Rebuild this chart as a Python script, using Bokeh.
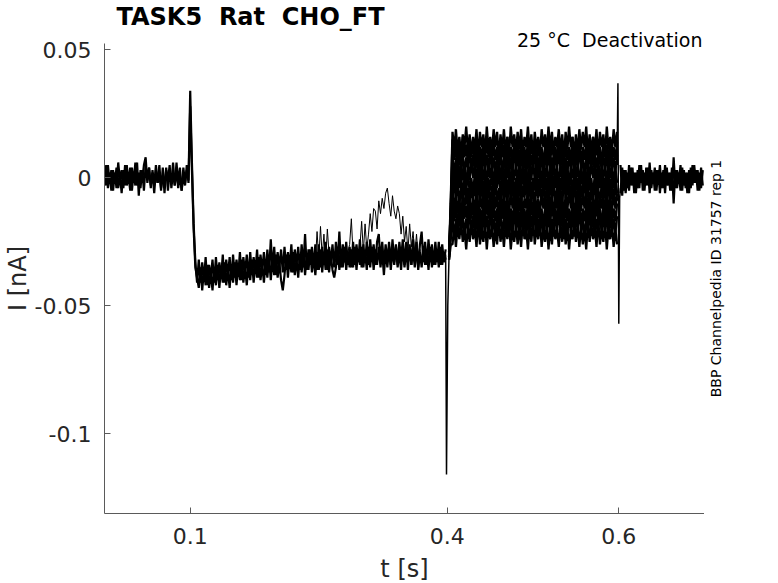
import numpy as np
from bokeh.plotting import figure
from bokeh.layouts import row
from bokeh.models import Range1d, FixedTicker, Title, Label
from bokeh.embed import file_html
from bokeh.resources import INLINE

# ---------------- texts / axes ----------------
title_text = "TASK5  Rat  CHO_FT"
condition_text = "25 °C  Deactivation"
source_text = "BBP Channelpedia ID 31757 rep 1"
x_label = "t [s]"
y_label = "I [nA]"
x_ticks = [0.1, 0.4, 0.6]
x_tick_labels = ["0.1", "0.4", "0.6"]
y_ticks = [0.05, 0.0, -0.05, -0.1]
y_tick_labels = ["0.05", "0", "-0.05", "-0.1"]
x_limits = [0.0, 0.7]
y_limits = [-0.1312, 0.0525]

# ---------------- data (current, in pA) ----------------
# holding + prepulse, two overlapping sweeps, sampled every 2 ms from t = 0
base_start_s = 0.0
base_dt_s = 0.002
base_a_pA = [
    4, -3, 5, -2, 3, -5, 2, -4, 6, -1,
    3, -4, 5, -3, 1, -5, 4, -2, 6, -3,
    2, -4, 3, -5, 5, -1, 4, -3, 2, -6,
    3, -2, 5, -4, 1, -3, 4, -5, 2, -2,
    6, -3, 3, -4, 1, -5, 4, -2, 3, -1,
    34, 6, -18, -33, -41,
    -32, -41, -33, -40, -31, -42, -34, -39, -32, -41,
    -31, -40, -33, -39, -30, -41, -32, -38, -31, -40,
    -30, -39, -32, -38, -29, -40, -31, -37, -30, -39,
    -29, -38, -31, -37, -28, -39, -30, -36, -29, -38,
    -28, -37, -24, -36, -27, -38, -29, -35, -28, -37,
    -27, -36, -29, -35, -26, -37, -28, -34, -27, -36,
    -26, -35, -22, -36, -28, -34, -27, -35, -26, -36,
    -26, -35, -27, -34, -25, -36, -27, -33, -26, -35,
    -25, -34, -21, -35, -26, -33, -25, -34, -27, -35,
    -25, -34, -26, -33, -24, -35, -26, -33, -25, -34,
    -24, -33, -26, -34, -25, -22, -33, -25, -34, -26,
    -33, -25, -34, -24, -33, -26, -34, -25, -32, -24,
    -34, -25, -33, -26, -34, -24, -33, -25, -35, -26,
    -21, -33, -25, -34, -24, -33, -26, -34, -25, -33,
    -25, -34, -26, -33, -28,
]
base_b_pA = [
    -3, 5, -4, 2, -5, 3, -2, 4, -4, 1,
    -6, 3, -3, 5, -2, 4, -5, 2, -3, 6,
    -7, 3, -1, 5, 8, -2, 4, -4, 3, -3,
    5, -2, 2, -5, 4, -6, 3, -1, 5, -4,
    2, -3, 6, -2, 4, -5, 1, -3, 5, -2,
    28, 3, -20, -35, -39,
    -43, -35, -44, -36, -42, -34, -43, -37, -44, -35,
    -42, -34, -43, -35, -41, -33, -42, -36, -43, -34,
    -41, -33, -42, -34, -40, -32, -41, -35, -42, -33,
    -40, -32, -41, -33, -39, -31, -40, -34, -41, -32,
    -39, -31, -40, -32, -38, -30, -39, -33, -40, -44,
    -38, -30, -39, -31, -37, -29, -38, -32, -39, -30,
    -37, -29, -38, -30, -36, -28, -37, -31, -38, -29,
    -36, -28, -37, -29, -36, -28, -37, -30, -36, -39,
    -35, -27, -36, -28, -35, -27, -36, -29, -35, -28,
    -35, -27, -36, -28, -34, -27, -35, -29, -36, -27,
    -35, -27, -36, -28, -34, -27, -35, -29, -38, -28,
    -35, -27, -36, -28, -34, -27, -35, -29, -36, -27,
    -35, -28, -36, -27, -34, -28, -35, -27, -36, -29,
    -35, -27, -34, -28, -36, -27, -35, -29, -34, -28,
    -35, -27, -34, -29, -32,
]
# the sweep with the transient bump, 0.240 s .. 0.378 s
bump_start_s = 0.240
bump_dt_s = 0.002
bump_pA = [
    -31, -34, -30, -33, -21, -32, -19, -31, -22, -33,
    -20, -30, -34, -31, -29, -33, -30, -32, -28, -31,
    -33, -30, -29, -26, -16, -30, -32, -29, -31, -27,
    -17, -29, -18, -28, -22, -14, -21, -12, -13, -20,
    -9, -14, -8, -12, -6, -4, -10, -15, -7, -13,
    -16, -11, -14, -22, -15, -25, -19, -29, -18, -27,
    -21, -30, -22, -31, -28, -33, -29, -31, -30, -32,
]
# capacitive transient at the start of the test pulses
spike_on_t = [0.398, 0.399, 0.4005, 0.402]
spike_on_pA = [-30, -116, -50, -30]
# test pulses, 10 sweeps, sampled every 2 ms from 0.402 s
step_start_s = 0.402
step_dt_s = 0.002
step_1_pA = [-29, -8,
             18, 11, 19, 10, 16, 9, 17, 12, 20, 10, 17, 9, 16, 11, 19, 8, 18, 12, 17, 9,
             20, 11, 16, 10, 19, 12, 18, 8, 17, 11, 19, 10, 16, 9, 20, 12, 17, 10, 18, 11,
             19, 9, 16, 12, 20, 10, 17, 8, 18, 11, 16, 9, 19, 12, 17, 10, 20, 11, 18, 9,
             16, 12, 19, 10, 17, 8, 18, 11, 20, 12, 16, 9, 17, 10, 19, 11, 18, 12, 20, 9,
             17, 10, 16, 11, 19, 8, 18, 12, 17, 9, 20, 11, 16, 10, 19, 12, 18]
step_2_pA = [-31, -10,
             15, 7, 14, 4, 12, 6, 16, 8, 13, 5, 14, 8, 15, 6, 13, 4, 12, 7, 15, 6,
             16, 8, 13, 5, 14, 7, 12, 4, 15, 8, 13, 6, 16, 5, 12, 7, 14, 8, 15, 4,
             13, 6, 12, 5, 16, 7, 14, 8, 13, 5, 15, 6, 12, 4, 13, 8, 14, 5, 16, 7,
             12, 6, 15, 8, 13, 4, 14, 7, 12, 5, 16, 6, 13, 8, 15, 4, 12, 7, 14, 5,
             13, 8, 16, 6, 15, 7, 12, 4, 14, 8, 13, 5, 15, 6, 12, 7, 14]
step_3_pA = [-28, -12,
             9, 0, 8, 2, 11, 3, 10, 1, 8, 4, 12, 2, 9, 3, 8, 1, 11, 0, 10, 4,
             9, 2, 12, 3, 8, 1, 10, 4, 11, 0, 9, 3, 10, 1, 8, 2, 12, 4, 9, 1,
             11, 3, 8, 0, 10, 2, 9, 4, 12, 1, 8, 3, 10, 0, 11, 4, 9, 2, 8, 1,
             12, 3, 10, 4, 11, 0, 8, 2, 9, 3, 11, 1, 10, 4, 12, 3, 8, 0, 9, 2,
             11, 4, 10, 1, 8, 3, 12, 2, 9, 4, 10, 0, 11, 3, 8, 2, 9]
step_4_pA = [-32, -14,
             -2, 5, -3, 6, 0, 7, -1, 4, -4, 6, -1, 7, 0, 5, -3, 8, -2, 4, -1, 7,
             -4, 5, 0, 6, -3, 4, -2, 8, -1, 5, -3, 6, 0, 7, -4, 4, -1, 6, -2, 5,
             -3, 7, 0, 4, -4, 6, -1, 8, -2, 5, 0, 7, -3, 4, -1, 6, -4, 5, -2, 7,
             0, 4, -3, 6, -1, 8, -2, 5, -4, 4, 0, 7, -1, 6, -3, 5, -2, 4, -4, 7,
             -1, 6, 0, 5, -3, 8, -2, 4, -1, 7, -4, 5, 0, 6, -3, 4, -2]
step_5_pA = [-30, -16,
             -7, 1, -6, 4, -4, 2, -8, 0, -5, 3, -6, 0, -7, 2, -5, 4, -4, 1, -7, 2,
             -8, 0, -5, 3, -6, 1, -4, 4, -7, 0, -5, 2, -8, 3, -4, 1, -6, 0, -7, 4,
             -5, 2, -4, 3, -8, 1, -6, 0, -5, 3, -7, 2, -4, 4, -5, 0, -6, 3, -8, 1,
             -4, 2, -7, 0, -5, 4, -6, 1, -4, 3, -8, 2, -5, 0, -7, 4, -4, 1, -6, 3,
             -5, 0, -8, 2, -7, 1, -4, 4, -6, 0, -5, 3, -7, 2, -4, 1, -6]
step_6_pA = [-29, -18,
             -9, 0, -8, -2, -11, -3, -10, -1, -8, -4, -12, -2, -9, -3, -8, -1, -11, 0, -10, -4,
             -9, -2, -12, -3, -8, -1, -10, -4, -11, 0, -9, -3, -10, -1, -8, -2, -12, -4, -9, -1,
             -11, -3, -8, 0, -10, -2, -9, -4, -12, -1, -8, -3, -10, 0, -11, -4, -9, -2, -8, -1,
             -12, -3, -10, -4, -11, 0, -8, -2, -9, -3, -11, -1, -10, -4, -12, -3, -8, 0, -9, -2,
             -11, -4, -10, -1, -8, -3, -12, -2, -9, -4, -10, 0, -11, -3, -8, -2, -9]
step_7_pA = [-31, -20,
             -6, -13, -5, -14, -8, -15, -7, -12, -4, -14, -7, -15, -8, -13, -5, -16, -6, -12, -7, -15,
             -4, -13, -8, -14, -5, -12, -6, -16, -7, -13, -5, -14, -8, -15, -4, -12, -7, -14, -6, -13,
             -5, -15, -8, -12, -4, -14, -7, -16, -6, -13, -8, -15, -5, -12, -7, -14, -4, -13, -6, -15,
             -8, -12, -5, -14, -7, -16, -6, -13, -4, -12, -8, -15, -7, -14, -5, -13, -6, -12, -4, -15,
             -7, -14, -8, -13, -5, -16, -6, -12, -7, -15, -4, -13, -8, -14, -5, -12, -6]
step_8_pA = [-28, -22,
             -9, -17, -10, -20, -12, -18, -8, -16, -11, -19, -10, -16, -9, -18, -11, -20, -12, -17, -9, -18,
             -8, -16, -11, -19, -10, -17, -12, -20, -9, -16, -11, -18, -8, -19, -12, -17, -10, -16, -9, -20,
             -11, -18, -12, -19, -8, -17, -10, -16, -11, -19, -9, -18, -12, -20, -11, -16, -10, -19, -8, -17,
             -12, -18, -9, -16, -11, -20, -10, -17, -12, -19, -8, -18, -11, -16, -9, -20, -12, -17, -10, -19,
             -11, -16, -8, -18, -9, -17, -12, -20, -10, -16, -11, -19, -9, -18, -12, -17, -10]
step_9_pA = [-30, -24,
             -15, -24, -16, -22, -13, -21, -14, -23, -16, -20, -12, -22, -15, -21, -16, -23, -13, -24, -14, -20,
             -15, -22, -12, -21, -16, -23, -14, -20, -13, -24, -15, -21, -14, -23, -16, -22, -12, -20, -15, -23,
             -13, -21, -16, -24, -14, -22, -15, -20, -12, -23, -16, -21, -14, -24, -13, -20, -15, -22, -16, -23,
             -12, -21, -14, -20, -13, -24, -16, -22, -15, -21, -13, -23, -14, -20, -12, -21, -16, -24, -15, -22,
             -13, -20, -14, -23, -16, -21, -12, -22, -15, -20, -14, -24, -13, -21, -16, -22, -15]
step_10_pA = [-32, -26,
              -26, -19, -27, -18, -24, -17, -25, -20, -28, -18, -25, -17, -24, -19, -27, -16, -26, -20, -25, -17,
              -28, -19, -24, -18, -27, -20, -26, -16, -25, -19, -27, -18, -24, -17, -28, -20, -25, -18, -26, -19,
              -27, -17, -24, -20, -28, -18, -25, -16, -26, -19, -24, -17, -27, -20, -25, -18, -28, -19, -26, -17,
              -24, -20, -27, -18, -25, -16, -26, -19, -28, -20, -24, -17, -25, -18, -27, -19, -26, -20, -28, -17,
              -25, -18, -24, -19, -27, -16, -26, -20, -25, -17, -28, -19, -24, -18, -27, -20, -26]
# capacitive transient at the end of the test pulses
spike_off_t = [0.598, 0.599, 0.600, 0.601, 0.602]
spike_off_pA = [5, 37, -57, -8, -4]
# back to holding, two overlapping sweeps, every 2 ms from 0.602 s
post_start_s = 0.602
post_dt_s = 0.002
post_a_pA = [-6, 4, -5, 3, -4, 5, -3, 4, -6, 2, -4, 5, -2, 3, -5, 4, -3, 6, -4, 2,
             -5, 3, -2, 5, -4, 3, -6, 4, -3, 2, -5, 8, -4, 3, -2, 5, -5, 3, -4, 2,
             -6, 4, -3, 5, -2, 3, -5, 4, -3]
post_b_pA = [5, -7, 3, -6, 2, -5, 4, -3, 2, -6, 3, -4, 5, -5, 2, -3, 4, -6, 3, -2,
             4, -5, 3, -6, 2, -4, 5, -3, 2, -5, 4, -10, 3, -4, 2, -5, 4, -3, 2, -6,
             3, -4, 5, -2, 3, -5, 2, -4, 3]

PA_TO_NA = 1e-3


def sampled(start, dt, values):
    t = start + dt * np.arange(len(values))
    return t, np.asarray(values, dtype=float) * PA_TO_NA


def listed(times, values):
    return np.asarray(times, dtype=float), np.asarray(values, dtype=float) * PA_TO_NA


holding = [sampled(base_start_s, base_dt_s, base_a_pA),
           sampled(base_start_s, base_dt_s, base_b_pA),
           sampled(post_start_s, post_dt_s, post_a_pA),
           sampled(post_start_s, post_dt_s, post_b_pA)]
pulses = [sampled(step_start_s, step_dt_s, arr) for arr in
          [step_1_pA, step_2_pA, step_3_pA, step_4_pA, step_5_pA,
           step_6_pA, step_7_pA, step_8_pA, step_9_pA, step_10_pA]]
transients = [listed(spike_on_t, spike_on_pA), listed(spike_off_t, spike_off_pA)]
single = [sampled(bump_start_s, bump_dt_s, bump_pA)]

# ---------------- figure ----------------
FONT = "DejaVu Sans"
AXIS_GREY = "#5a5a5a"
TEXT_DARK = "#262626"


def keep_spaces(s):
    return s.replace("  ", " \u00a0")


p = figure(frame_width=600, frame_height=470,
           min_border_left=97, min_border_right=0, min_border_top=43, min_border_bottom=50,
           x_range=Range1d(*x_limits), y_range=Range1d(*y_limits),
           output_backend="svg", toolbar_location=None)
p.outline_line_color = None
p.xgrid.grid_line_color = None
p.ygrid.grid_line_color = None
p.background_fill_color = "white"
p.border_fill_color = "white"

for t, i in holding:
    p.line(t, i, line_color="black", line_width=2.2)
for t, i in pulses:
    p.line(t, i, line_color="black", line_width=2.3)
for t, i in transients:
    p.line(t, i, line_color="black", line_width=1.5)
for t, i in single:
    p.line(t, i, line_color="black", line_width=1.0)

p.xaxis.ticker = FixedTicker(ticks=x_ticks)
p.xaxis.major_label_overrides = {t: l for t, l in zip(x_ticks, x_tick_labels)}
p.yaxis.ticker = FixedTicker(ticks=y_ticks)
p.yaxis.major_label_overrides = {t: l for t, l in zip(y_ticks, y_tick_labels)}
p.xaxis.axis_label = x_label
p.yaxis.axis_label = y_label

for ax in (p.xaxis[0], p.yaxis[0]):
    ax.axis_line_color = AXIS_GREY
    ax.axis_line_width = 1
    ax.major_tick_line_color = AXIS_GREY
    ax.major_tick_in = 6
    ax.major_tick_out = 0
    ax.minor_tick_line_color = None
    ax.major_label_text_font = FONT
    ax.major_label_text_font_size = "22px"
    ax.major_label_text_color = TEXT_DARK
    ax.axis_label_text_font = FONT
    ax.axis_label_text_font_size = "24px"
    ax.axis_label_text_font_style = "normal"
    ax.axis_label_text_color = TEXT_DARK
p.yaxis.major_label_standoff = 13
p.yaxis.axis_label_standoff = 0
p.xaxis.major_label_standoff = 14
p.xaxis.axis_label_standoff = 8

# condition text (closest row above the frame, reaching into it)
p.add_layout(Title(text=keep_spaces(condition_text), align="right", offset=2,
                   vertical_align="bottom", standoff=-15, text_font=FONT,
                   text_font_size="19px", text_font_style="normal", text_color="black"), "above")
# main title (outer row)
p.title.text = keep_spaces(title_text)
p.title.align = "left"
p.title.offset = 12
p.title.vertical_align = "top"
p.title.standoff = 4
p.title.text_font = FONT
p.title.text_font_size = "24px"
p.title.text_font_style = "bold"
p.title.text_color = "black"

# narrow companion panel on the right holding the rotated source note
side = figure(frame_width=26, frame_height=470,
              min_border_left=0, min_border_right=8, min_border_top=43, min_border_bottom=50,
              x_range=Range1d(0, 1), y_range=Range1d(0, 1),
              x_axis_location=None, y_axis_location=None,
              output_backend="svg", toolbar_location=None)
side.outline_line_color = None
side.xgrid.grid_line_color = None
side.ygrid.grid_line_color = None
side.add_layout(Label(x=11.5, y=235, x_units="screen", y_units="screen", text=source_text,
                      angle=np.pi / 2, text_font=FONT, text_font_size="14px",
                      text_color="black", text_align="center", text_baseline="middle"))

layout = row(p, side)
open("out.html", "w").write(file_html(layout, INLINE))
